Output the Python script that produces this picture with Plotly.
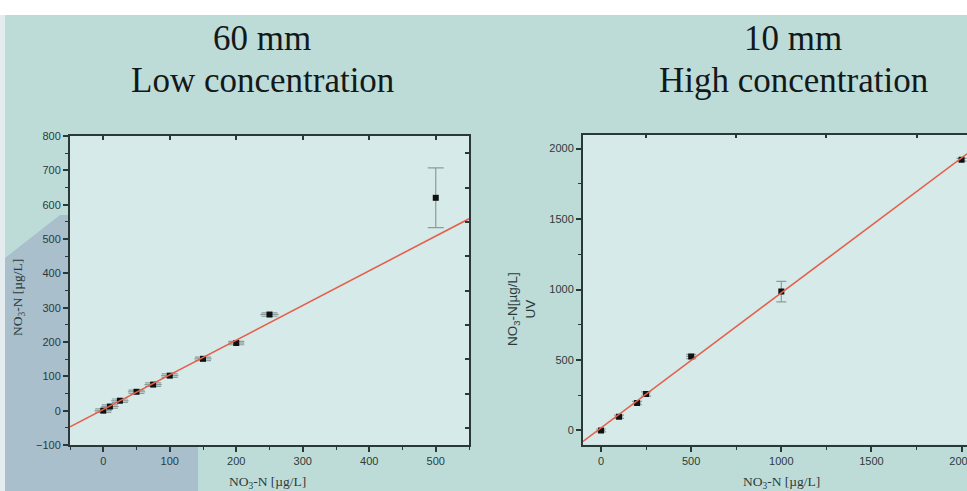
import plotly.graph_objects as go

W, H = 967, 491

# ---------- data ----------
low_x = [0, 10, 25, 50, 75, 100, 150, 200, 250, 500]
low_y = [0, 12, 29, 55, 76, 102, 151, 197, 280, 620]
low_xerr = [13, 13, 13, 13, 13, 13, 13, 12, 14, 0]
low_yerr = [5, 5, 5, 5, 5, 5, 5, 5, 5, 87]
low_fit_x = [-50, 550]
low_fit_y = [-47, 559]

high_x = [0, 100, 200, 250, 500, 1000, 2000]
high_y = [0, 97, 194, 259, 525, 985, 1921]
high_xerr = [22, 22, 22, 22, 28, 0, 0]
high_yerr = [10, 12, 12, 15, 15, 73, 10]
high_fit_x = [-100, 2030]
high_fit_y = [-78, 1963]

low_top_ticks = [0, 100, 200, 300, 400, 500]
low_right_ticks = [-50, 50, 150, 250, 350, 450, 550, 650, 750]
high_top_ticks = [250, 750, 1250, 1750]

titles_left = ["60 mm", "Low concentration"]
titles_right = ["10 mm", "High concentration"]

# ---------- helpers ----------
def px(x):
    return x / W

def py(y):
    return 1 - y / H

AX = "#2b3838"
LINE = "#e4604c"
ERR = "#8a9c9c"
TICKFONT_L = dict(family="Liberation Sans Narrow, Arial Narrow, Liberation Sans, Arial", size=11, color="#2e3a3a")
TICKFONT_R = dict(family="Liberation Sans, Arial", size=11, color="#2e3a3a")

fig = go.Figure()

# left panel
fig.add_trace(go.Scatter(
    x=low_x, y=low_y, mode="markers",
    marker=dict(symbol="square", size=6, color="#111111"),
    error_x=dict(type="data", array=low_xerr, color=ERR, thickness=1.2, width=0),
    error_y=dict(type="data", array=low_yerr, color=ERR, thickness=1.2, width=8),
    xaxis="x", yaxis="y", showlegend=False))
fig.add_trace(go.Scatter(
    x=low_fit_x, y=low_fit_y, mode="lines",
    line=dict(color=LINE, width=1.6), xaxis="x", yaxis="y", showlegend=False))
fig.add_trace(go.Scatter(x=[None], y=[None], xaxis="x3", yaxis="y", showlegend=False))
fig.add_trace(go.Scatter(x=[None], y=[None], xaxis="x", yaxis="y3", showlegend=False))

# right panel
fig.add_trace(go.Scatter(
    x=high_x, y=high_y, mode="markers",
    marker=dict(symbol="square", size=6, color="#111111"),
    error_x=dict(type="data", array=high_xerr, color=ERR, thickness=1.2, width=0),
    error_y=dict(type="data", array=high_yerr, color=ERR, thickness=1.2, width=5),
    xaxis="x2", yaxis="y2", showlegend=False))
fig.add_trace(go.Scatter(
    x=high_fit_x, y=high_fit_y, mode="lines",
    line=dict(color=LINE, width=1.6), xaxis="x2", yaxis="y2", showlegend=False))
fig.add_trace(go.Scatter(x=[None], y=[None], xaxis="x4", yaxis="y2", showlegend=False))

common = dict(showgrid=False, zeroline=False, automargin=False)

fig.update_layout(
    width=W, height=H,
    margin=dict(l=0, r=0, t=0, b=0),
    paper_bgcolor="#bddcd8",
    plot_bgcolor="#d6ebe9",
    xaxis=dict(domain=[px(70), px(469)], anchor="y", range=[-50, 550],
               tick0=0, dtick=100, ticks="outside", ticklen=5, tickwidth=1.5, tickcolor=AX,
               minor=dict(ticks="outside", dtick=50, ticklen=3, tickwidth=1, tickcolor=AX),
               showline=True, linecolor=AX, linewidth=2, mirror=True,
               tickfont=TICKFONT_L, **common),
    yaxis=dict(domain=[py(445), py(136)], anchor="x", range=[-100, 800],
               tick0=0, dtick=100, ticks="outside", ticklen=5, tickwidth=1.5, tickcolor=AX,
               minor=dict(ticks="outside", dtick=50, ticklen=3, tickwidth=1, tickcolor=AX),
               showline=True, linecolor=AX, linewidth=2, mirror=True,
               tickfont=TICKFONT_L, **common),
    xaxis3=dict(overlaying="x", side="top", anchor="y", range=[-50, 550],
                tickmode="array", tickvals=low_top_ticks, ticks="inside", ticklen=4,
                tickwidth=1.5, tickcolor=AX, showticklabels=False, showline=False, **common),
    yaxis3=dict(overlaying="y", side="right", anchor="x", range=[-100, 800],
                tickmode="array", tickvals=low_right_ticks, ticks="inside", ticklen=4,
                tickwidth=1.5, tickcolor=AX, showticklabels=False, showline=False, **common),
    xaxis2=dict(domain=[px(583), 1.0], anchor="y2", range=[-100, 2030],
                tick0=0, dtick=500, ticks="outside", ticklen=5, tickwidth=1.5, tickcolor=AX,
                minor=dict(ticks="outside", dtick=250, ticklen=3, tickwidth=1, tickcolor=AX),
                showline=True, linecolor=AX, linewidth=2, mirror=True,
                ticklabeloverflow="allow",
                tickfont=TICKFONT_R, **common),
    yaxis2=dict(domain=[py(444.5), py(134.5)], anchor="x2", range=[-100, 2100],
                tick0=0, dtick=500, ticks="outside", ticklen=5, tickwidth=1.5, tickcolor=AX,
                minor=dict(ticks="outside", dtick=250, ticklen=3, tickwidth=1, tickcolor=AX),
                showline=True, linecolor=AX, linewidth=2, mirror=False,
                tickfont=TICKFONT_R, **common),
    xaxis4=dict(overlaying="x2", side="top", anchor="y2", range=[-100, 2030],
                tickmode="array", tickvals=high_top_ticks, ticks="inside", ticklen=3,
                tickwidth=1.5, tickcolor=AX, showticklabels=False, showline=False, **common),
)

# background decoration (slide)
shapes = [
    dict(type="rect", xref="paper", yref="paper", x0=0, x1=1, y0=py(15), y1=1,
         fillcolor="#ffffff", line=dict(width=0), layer="below"),
    dict(type="rect", xref="paper", yref="paper", x0=0, x1=px(5), y0=0, y1=py(15),
         fillcolor="#e4ecef", line=dict(width=0), layer="below"),
    dict(type="path", xref="paper", yref="paper", layer="below",
         path=(f"M {px(5)},{py(491)} L {px(198)},{py(491)} L {px(198)},{py(447)} "
               f"L {px(68)},{py(447)} L {px(68)},{py(215)} L {px(60)},{py(215)} "
               f"L {px(5)},{py(258)} Z"),
         fillcolor="#a9bfcc", line=dict(width=0)),
]
fig.update_layout(shapes=shapes)

TITLE_FONT = dict(family="Liberation Serif, Times New Roman, serif", size=35, color="#141818")
ann = []
for cx, lines in ((262, titles_left), (793, titles_right)):
    ann.append(dict(text=lines[0], x=px(cx), y=py(38), xref="paper", yref="paper",
                    showarrow=False, xanchor="center", yanchor="middle", font=TITLE_FONT))
    ann.append(dict(text=lines[1], x=px(cx), y=py(80), xref="paper", yref="paper",
                    showarrow=False, xanchor="center", yanchor="middle", font=TITLE_FONT))

AXT_SERIF = dict(family="Liberation Serif, Times New Roman, serif", size=13.5, color="#2e3a3a")
AXT_SANS = dict(family="Liberation Sans, Arial", size=13.5, color="#2e3a3a")
ann += [
    dict(text="NO<sub>3</sub>-N [µg/L]", x=px(267), y=py(482), xref="paper", yref="paper",
         showarrow=False, xanchor="center", yanchor="middle", font=AXT_SERIF),
    dict(text="NO<sub>3</sub>-N [µg/L]", x=px(781), y=py(482), xref="paper", yref="paper",
         showarrow=False, xanchor="center", yanchor="middle", font=AXT_SERIF),
    dict(text="NO<sub>3</sub>-N [µg/L]", x=px(18), y=py(298), xref="paper", yref="paper",
         showarrow=False, xanchor="center", yanchor="middle", textangle=-90, font=AXT_SERIF),
    dict(text="NO<sub>3</sub>-N[µg/L]<br>UV", x=px(521), y=py(309), xref="paper", yref="paper",
         showarrow=False, xanchor="center", yanchor="middle", textangle=-90, font=AXT_SANS),
]
fig.update_layout(annotations=ann)

fig.write_html("out.html", config={"displayModeBar": False},
               post_script="document.body.style.margin='0px';document.body.style.overflow='hidden';")
